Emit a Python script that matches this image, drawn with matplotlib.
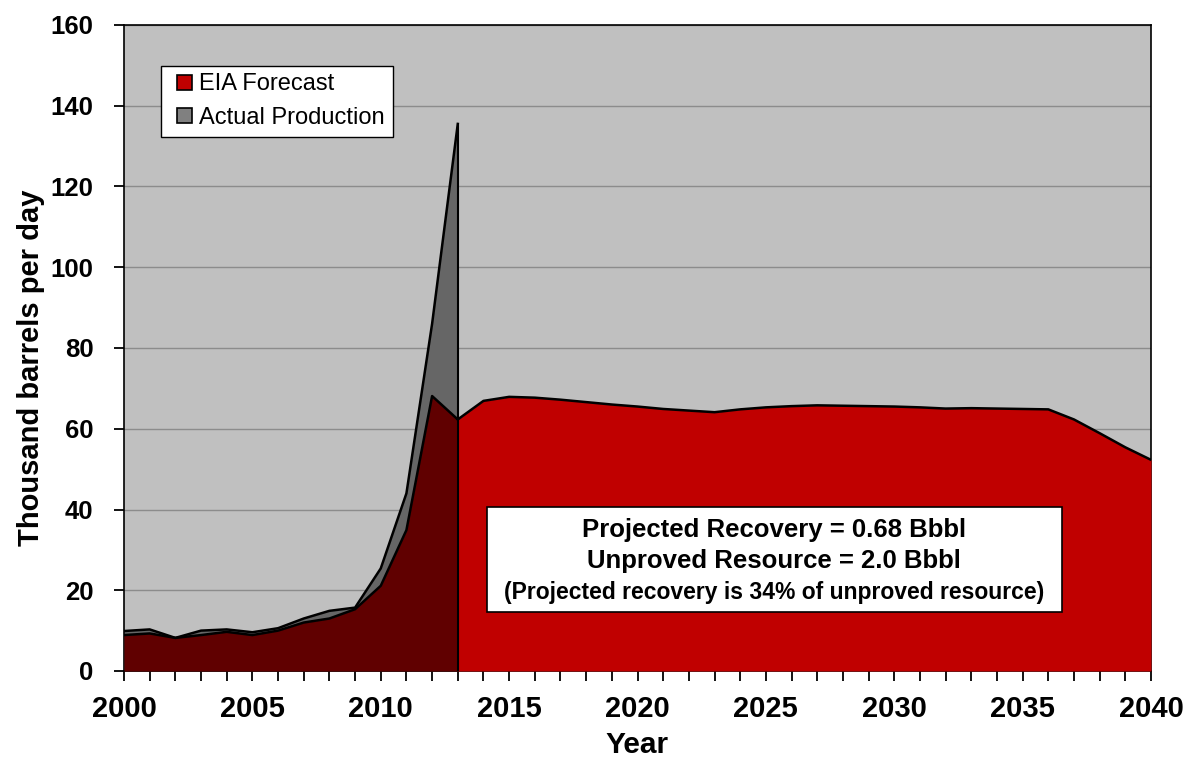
import matplotlib
matplotlib.use("Agg")
import matplotlib.pyplot as plt
from matplotlib.patches import Patch, Rectangle
from matplotlib.legend_handler import HandlerPatch
import numpy as np

# ---- data ----
years_actual = list(range(2000, 2014))
actual_production = [9.9, 10.3, 8.2, 10.0, 10.3, 9.6, 10.6, 13.0, 14.9, 15.7, 25.4, 44.0, 86.0, 135.5]

years_forecast = list(range(2000, 2041))
eia_forecast = [8.9, 9.3, 8.2, 8.9, 9.7, 8.9, 10.0, 12.0, 13.0, 15.3, 21.1, 34.9, 68.1, 62.3,
                66.9, 67.9, 67.7, 67.2, 66.6, 66.0, 65.5, 64.9, 64.5, 64.1, 64.8, 65.3, 65.6,
                65.8, 65.7, 65.6, 65.5, 65.3, 65.0, 65.1, 65.0, 64.9, 64.8, 62.3, 58.9, 55.4, 52.3]
split_year = 2013

legend_labels = ["EIA Forecast", "Actual Production"]
box_lines = ["Projected Recovery = 0.68 Bbbl",
             "Unproved Resource = 2.0 Bbbl",
             "(Projected recovery is 34% of unproved resource)"]

plt.rcParams['font.family'] = ['Liberation Sans', 'DejaVu Sans']

RED = "#C00000"
DARK = "#600000"
GRAY = "#666666"

fig = plt.figure(figsize=(11.91, 7.57), dpi=100)
ax = fig.add_axes([124/1191, 1-671/757, 1027/1191, 646/757])
ax.set_facecolor("#C0C0C0")

ya = np.array(years_actual)
pa = np.array(actual_production)
yf = np.array(years_forecast)
pf = np.array(eia_forecast)
hist_mask = yf <= split_year
fut_mask = yf >= split_year

# actual production
ax.fill_between(ya, 0, pa, color=GRAY, lw=0, zorder=2)
ax.plot(ya, pa, color="black", lw=1.8, zorder=4)
# forecast (historical part)
ax.fill_between(yf[hist_mask], 0, pf[hist_mask], color=DARK, lw=0, zorder=3)
ax.plot(yf[hist_mask], pf[hist_mask], color="black", lw=1.8, zorder=4)
# forecast (future part)
ax.fill_between(yf[fut_mask], 0, pf[fut_mask], color=RED, lw=0, zorder=3)
ax.plot(yf[fut_mask], pf[fut_mask], color="black", lw=1.8, zorder=4)
ax.plot([split_year, split_year], [0, pa[-1]], color="black", lw=1.5, zorder=5)

ax.set_xlim(2000, 2040)
ax.set_ylim(0, 160)
ax.set_xticks(range(2000, 2041, 5))
ax.set_xticks(range(2000, 2041, 1), minor=True)
ax.set_yticks(range(0, 161, 20))
ax.yaxis.grid(True, color="#8C8C8C", lw=1.0)
ax.set_axisbelow(True)
ax.tick_params(axis="both", which="both", direction="out", length=7, width=1.3, color="black")
for lab in ax.get_xticklabels():
    lab.set_fontweight("bold")
    lab.set_fontsize(21)
for lab in ax.get_yticklabels():
    lab.set_fontweight("bold")
    lab.set_fontsize(18.5)
ax.tick_params(axis="x", pad=10)
ax.tick_params(axis="y", pad=15)
for s in ax.spines.values():
    s.set_color("black")
    s.set_linewidth(1.2)

ax.set_xlabel("Year", fontsize=21.5, fontweight="bold", va="center")
ax.xaxis.set_label_coords(0.5, -0.1146)
ax.set_ylabel("Thousand barrels per day", fontsize=21, fontweight="bold", va="center")
ax.yaxis.set_label_coords(-0.091, 0.47)


def square_patch(legend, orig_handle, xdescent, ydescent, width, height, fontsize):
    s = height
    return Rectangle((-xdescent + width - s, -ydescent), s, s)


handles = [Patch(facecolor=RED, edgecolor="black", lw=1.2),
           Patch(facecolor="#808080", edgecolor="black", lw=1.2)]
leg = ax.legend(handles, legend_labels, loc="upper left", bbox_to_anchor=(0.036, 0.937),
                borderaxespad=0, fontsize=17, frameon=True, fancybox=False,
                handlelength=1.0, handleheight=0.6, handletextpad=0.3,
                labelspacing=0.5, borderpad=0.33, framealpha=1,
                handler_map={Patch: HandlerPatch(patch_func=square_patch)})
leg.get_frame().set_edgecolor("black")
leg.get_frame().set_linewidth(1.0)
leg.set_zorder(10)

rect = Rectangle((0.3535, 0.0913), 0.9133-0.3535, 0.2539-0.0913, transform=ax.transAxes,
                 facecolor="white", edgecolor="black", lw=1.2, zorder=8)
ax.add_patch(rect)
cx = 0.633
ax.text(cx, 0.219, box_lines[0], transform=ax.transAxes, ha="center", va="center",
        fontsize=18.5, fontweight="bold", zorder=9)
ax.text(cx, 0.171, box_lines[1], transform=ax.transAxes, ha="center", va="center",
        fontsize=18.5, fontweight="bold", zorder=9)
ax.text(cx, 0.122, box_lines[2], transform=ax.transAxes, ha="center", va="center",
        fontsize=16.5, fontweight="bold", zorder=9)

fig.savefig("out.png", dpi=100)
